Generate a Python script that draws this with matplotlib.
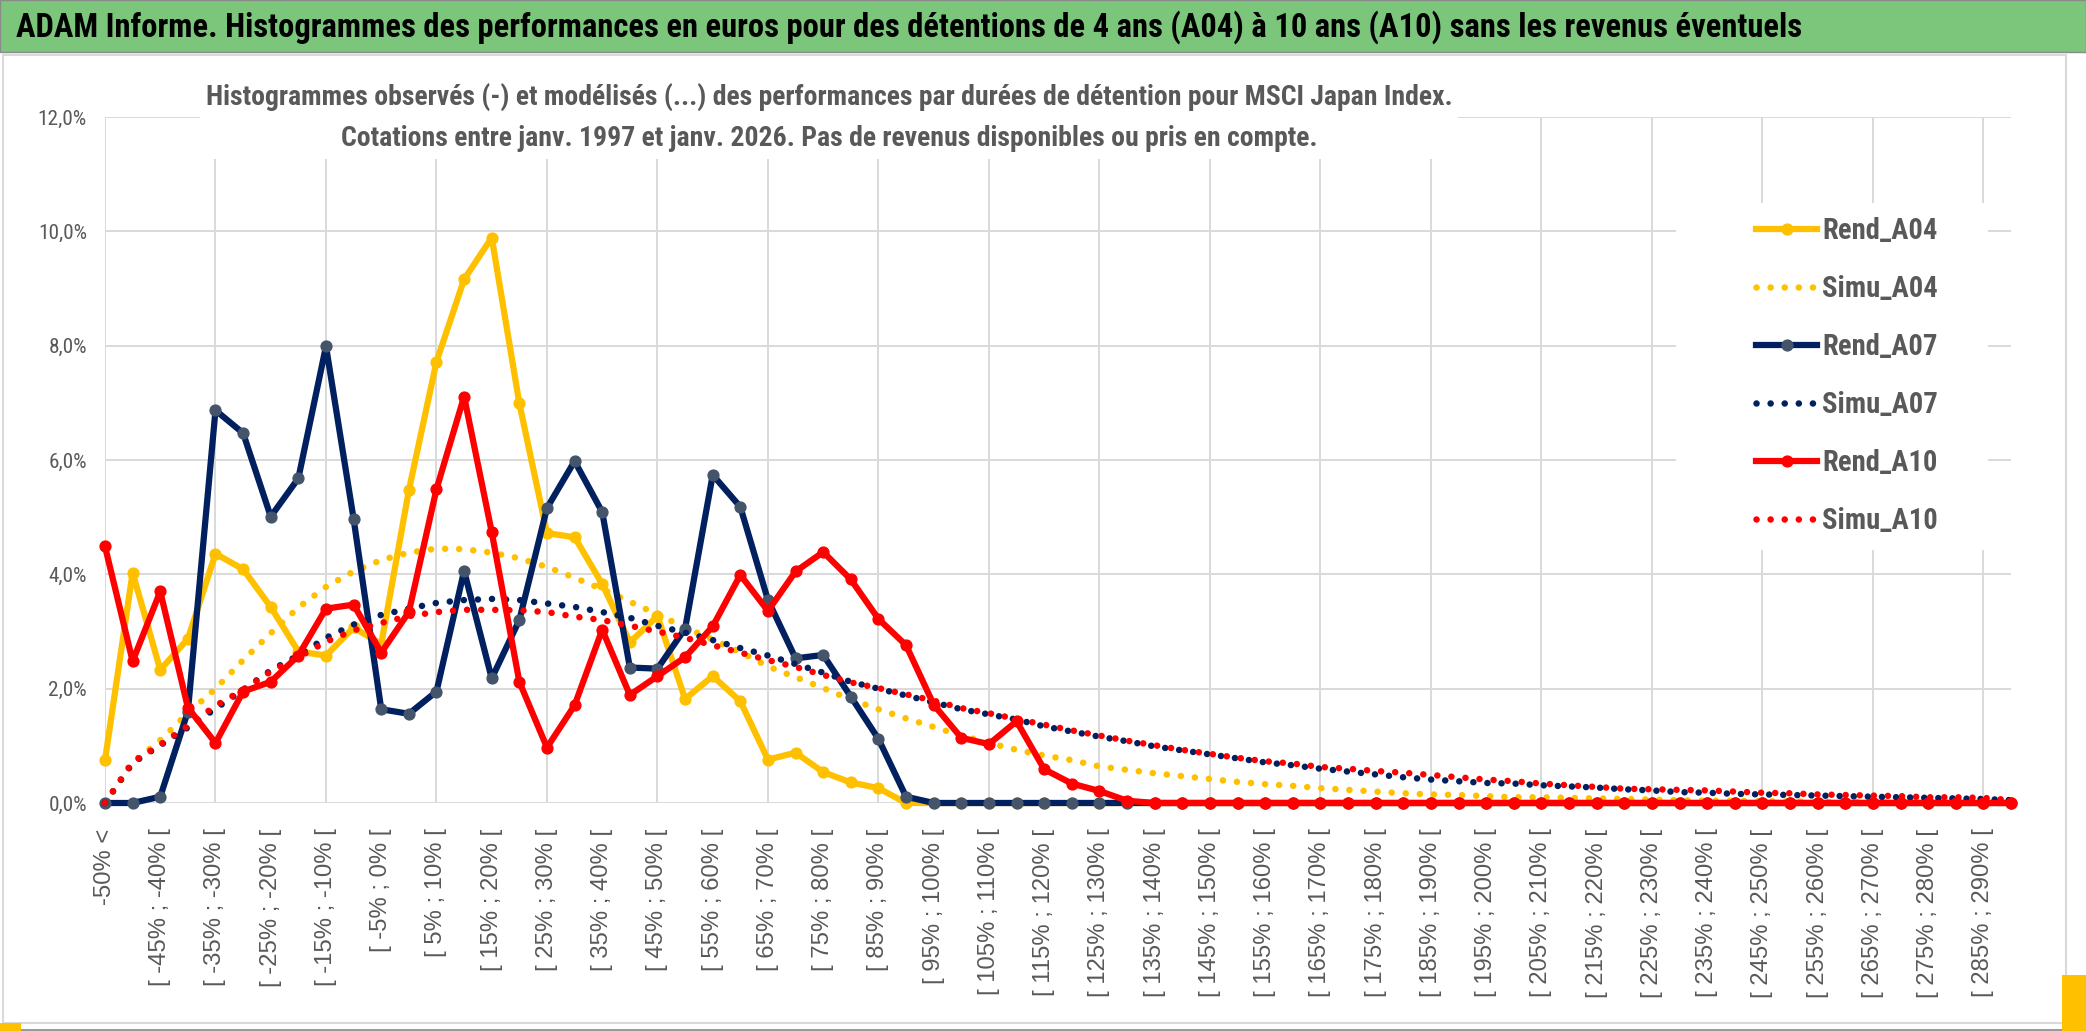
import numpy as np
import matplotlib.pyplot as plt
from matplotlib import font_manager
from matplotlib.patches import Rectangle

# fonts: a narrow sans for the Excel (Calibri) look, fallback if missing
names = {f.name for f in font_manager.fontManager.ttflist}
narrow = 'Liberation Sans'
for cand in ['Liberation Sans Narrow', 'Roboto Condensed', 'Open Sans Condensed']:
    if cand in names:
        narrow = cand
        break

# ---- data (values in %) ----
bin_starts = list(range(-50, 295, 5))
categories = ["-50% <"] + ["[ %d%% ; %d%% [" % (a, a + 5) for a in bin_starts]

rend_a04 = [0.75, 4.03, 2.33, 2.87, 4.36, 4.09, 3.43, 2.65, 2.58, 3.07,
            2.78, 5.47, 7.72, 9.16, 9.89, 6.99, 4.72, 4.65, 3.83, 2.81,
            3.27, 1.82, 2.22, 1.78, 0.76, 0.88, 0.54, 0.36, 0.26, 0.00,
            0.00, 0.00, 0.00, 0.00, 0.00, 0.00, 0.00, 0.00, 0.00, 0.00,
            0.00, 0.00, 0.00, 0.00, 0.00, 0.00, 0.00, 0.00, 0.00, 0.00,
            0.00, 0.00, 0.00, 0.00, 0.00, 0.00, 0.00, 0.00, 0.00, 0.00,
            0.00, 0.00, 0.00, 0.00, 0.00, 0.00, 0.00, 0.00, 0.00, 0.00]

simu_a04 = [0.00, 0.70, 1.10, 1.57, 2.00, 2.50, 2.97, 3.42, 3.78, 4.05,
            4.25, 4.38, 4.45, 4.44, 4.38, 4.28, 4.13, 3.94, 3.74, 3.52,
            3.30, 3.07, 2.86, 2.64, 2.39, 2.20, 2.01, 1.81, 1.64, 1.48,
            1.33, 1.18, 1.05, 0.93, 0.83, 0.75, 0.64, 0.58, 0.52, 0.47,
            0.42, 0.37, 0.33, 0.30, 0.26, 0.23, 0.20, 0.17, 0.15, 0.14,
            0.12, 0.10, 0.10, 0.09, 0.08, 0.07, 0.06, 0.05, 0.04, 0.04,
            0.03, 0.03, 0.02, 0.02, 0.02, 0.01, 0.01, 0.01, 0.01, 0.01]

rend_a07 = [0.00, 0.00, 0.11, 1.60, 6.87, 6.47, 5.01, 5.68, 7.99, 4.97,
            1.64, 1.56, 1.95, 4.06, 2.18, 3.20, 5.16, 5.98, 5.09, 2.37,
            2.35, 3.05, 5.74, 5.18, 3.55, 2.53, 2.59, 1.86, 1.12, 0.11,
            0.00, 0.00, 0.00, 0.00, 0.00, 0.00, 0.00, 0.00, 0.00, 0.00,
            0.00, 0.00, 0.00, 0.00, 0.00, 0.00, 0.00, 0.00, 0.00, 0.00,
            0.00, 0.00, 0.00, 0.00, 0.00, 0.00, 0.00, 0.00, 0.00, 0.00,
            0.00, 0.00, 0.00, 0.00, 0.00, 0.00, 0.00, 0.00, 0.00, 0.00]

simu_a07 = [0.00, 0.70, 1.01, 1.32, 1.65, 1.98, 2.32, 2.58, 2.89, 3.12,
            3.29, 3.40, 3.50, 3.55, 3.57, 3.55, 3.49, 3.43, 3.34, 3.24,
            3.10, 2.98, 2.85, 2.71, 2.58, 2.43, 2.28, 2.12, 2.00, 1.88,
            1.76, 1.64, 1.55, 1.46, 1.34, 1.25, 1.16, 1.08, 0.99, 0.92,
            0.85, 0.78, 0.71, 0.66, 0.60, 0.55, 0.50, 0.45, 0.41, 0.38,
            0.35, 0.34, 0.31, 0.29, 0.27, 0.24, 0.22, 0.19, 0.18, 0.16,
            0.15, 0.14, 0.13, 0.12, 0.11, 0.10, 0.09, 0.08, 0.07, 0.05]

rend_a10 = [4.49, 2.48, 3.70, 1.67, 1.05, 1.95, 2.12, 2.58, 3.40, 3.47,
            2.63, 3.34, 5.49, 7.11, 4.74, 2.12, 0.97, 1.71, 3.03, 1.89,
            2.22, 2.55, 3.09, 3.99, 3.36, 4.05, 4.39, 3.91, 3.22, 2.76,
            1.72, 1.14, 1.03, 1.43, 0.59, 0.34, 0.21, 0.04, 0.00, 0.00,
            0.00, 0.00, 0.00, 0.00, 0.00, 0.00, 0.00, 0.00, 0.00, 0.00,
            0.00, 0.00, 0.00, 0.00, 0.00, 0.00, 0.00, 0.00, 0.00, 0.00,
            0.00, 0.00, 0.00, 0.00, 0.00, 0.00, 0.00, 0.00, 0.00, 0.00]

simu_a10 = [0.00, 0.72, 1.02, 1.35, 1.70, 1.98, 2.30, 2.55, 2.82, 3.02,
            3.15, 3.27, 3.34, 3.38, 3.38, 3.37, 3.34, 3.26, 3.20, 3.10,
            3.00, 2.89, 2.76, 2.63, 2.50, 2.38, 2.24, 2.11, 2.01, 1.90,
            1.79, 1.66, 1.57, 1.47, 1.37, 1.27, 1.18, 1.09, 1.01, 0.93,
            0.86, 0.79, 0.73, 0.69, 0.63, 0.60, 0.56, 0.53, 0.49, 0.45,
            0.41, 0.38, 0.34, 0.31, 0.28, 0.25, 0.24, 0.23, 0.22, 0.20,
            0.18, 0.17, 0.15, 0.14, 0.13, 0.12, 0.10, 0.10, 0.09, 0.05]

y_ticks = [0, 2, 4, 6, 8, 10, 12]
y_tick_labels = ["0,0%", "2,0%", "4,0%", "6,0%", "8,0%", "10,0%", "12,0%"]

title = ("ADAM Informe. Histogrammes des performances en euros pour des détentions "
         "de 4 ans (A04) à 10 ans (A10) sans les revenus éventuels")
sub1 = ("Histogrammes observés (-) et modélisés (...) des performances par durées "
        "de détention pour MSCI Japan Index.")
sub2 = "Cotations entre janv. 1997 et janv. 2026. Pas de revenus disponibles ou pris en compte."

gold, navy, red = '#FFC000', '#002060', '#FF0000'
grey_txt = '#595959'
grid_c = '#D9D9D9'

W, H = 2086, 1031
fig = plt.figure(figsize=(W / 100, H / 100), dpi=100)
r = fig.canvas.get_renderer()


def text_size(s, width_px, **kw):
    # font size (pt) that gives string s the wanted pixel width
    t = fig.text(0, 0, s, fontsize=20, **kw)
    bb = t.get_window_extent(renderer=r)
    t.remove()
    return 20 * width_px / bb.width, bb.height * width_px / bb.width


ax = fig.add_axes([105 / W, 1 - 803 / H, (2011 - 105) / W, (803 - 117) / H])
x = np.arange(len(categories))

# grid drawn by hand (Excel: vertical every 4 categories)
for yv in y_ticks:
    ax.axhline(yv, color=grid_c, lw=1.4, zorder=0.5)
for xv in x[::4]:
    ax.axvline(xv, color=grid_c, lw=1.4, zorder=0.5)

rend_kw = dict(lw=4.5, marker='o', ms=7.8, clip_on=False, solid_joinstyle='round')
simu_kw = dict(lw=4.7, ls=(0, (0.01, 2.15)), dash_capstyle='round', clip_on=False)

ax.plot(x, rend_a04, color=gold, mfc=gold, mec=gold, label='Rend_A04', **rend_kw)
ax.plot(x, simu_a04, color=gold, label='Simu_A04', **simu_kw)
ax.plot(x, rend_a07, color=navy, mfc='#44546A', mec='#44546A', label='Rend_A07', **rend_kw)
ax.plot(x, simu_a07, color=navy, label='Simu_A07', **simu_kw)
ax.plot(x, rend_a10, color=red, mfc=red, mec=red, label='Rend_A10', **rend_kw)
ax.plot(x, simu_a10, color=red, label='Simu_A10', **simu_kw)

ax.set_xlim(0, len(categories) - 1)
ax.set_ylim(0, 12)
ax.set_yticks(y_ticks)
ysize, _ = text_size("12,0%", 49, family=narrow)
ax.set_yticklabels(y_tick_labels, family=narrow, fontsize=min(ysize, 17), color=grey_txt)
ax.set_xticks(x[::2])
ax.set_xticklabels(categories[::2], rotation=90, ha='center', va='top',
                   family='Liberation Sans', fontsize=17.2, color=grey_txt)
ax.tick_params(axis='both', length=0)
ax.tick_params(axis='y', pad=13)
ax.tick_params(axis='x', pad=18.5)
for s in ax.spines.values():
    s.set_visible(False)


# white boxes behind the chart title and the legend (they hide the grid)
def px_rect(x0, y0, x1, y1, **kw):
    return Rectangle((x0 / W, 1 - y1 / H), (x1 - x0) / W, (y1 - y0) / H,
                     transform=fig.transFigure, clip_on=False, **kw)


ax.add_patch(px_rect(200, 100, 1458, 159, fc='white', ec='none', zorder=1))
ax.add_patch(px_rect(1676, 203, 1988, 550, fc='white', ec='none', zorder=1))

# legend: text width and row pitch measured on the reference
lsize, lh = text_size("Rend_A04", 115, family=narrow, weight='bold')
fs_px = lsize * 100 / 72
row_h = max(lh, 0.7 * fs_px)
leg = ax.legend(loc='center left', bbox_to_anchor=(1742 / W, 1 - 376 / H),
                bbox_transform=fig.transFigure, frameon=False, borderpad=0,
                handlelength=61 / fs_px, handletextpad=5 / fs_px,
                labelspacing=(57.8 - row_h) / fs_px,
                prop=dict(family=narrow, weight='bold', size=lsize))
for t in leg.get_texts():
    t.set_color(grey_txt)

# outer decoration: green title bar, chart border, Excel selection marks
fig.patches.append(px_rect(0, 0, W, 52, fc='#7CC67C', ec='#8a8a8a', lw=1.0, zorder=0))
fig.patches.append(px_rect(3, 55, 2066, 1023, fc='none', ec=grid_c, lw=1.5, zorder=0))
fig.patches.append(px_rect(0, 1029, W, 1031, fc='#9a9a9a', ec='none', zorder=0))
fig.patches.append(px_rect(0, 1023, 21, 1031, fc=gold, ec='none', zorder=0))
fig.patches.append(px_rect(2062, 975, 2086, 1031, fc=gold, ec='none', zorder=0))

tsize, _ = text_size(title, 1786, family=narrow, weight='bold')
fig.text(16 / W, 1 - 27 / H, title, ha='left', va='center',
         family=narrow, weight='bold', fontsize=tsize, color='black')
ssize, _ = text_size(sub1, 1248, family=narrow, weight='bold')
fig.text(829 / W, 1 - 97 / H, sub1, ha='center', va='center',
         family=narrow, weight='bold', fontsize=ssize, color=grey_txt, zorder=3)
fig.text(829 / W, 1 - 138 / H, sub2, ha='center', va='center',
         family=narrow, weight='bold', fontsize=ssize, color=grey_txt, zorder=3)

fig.savefig('out.png', dpi=100)
